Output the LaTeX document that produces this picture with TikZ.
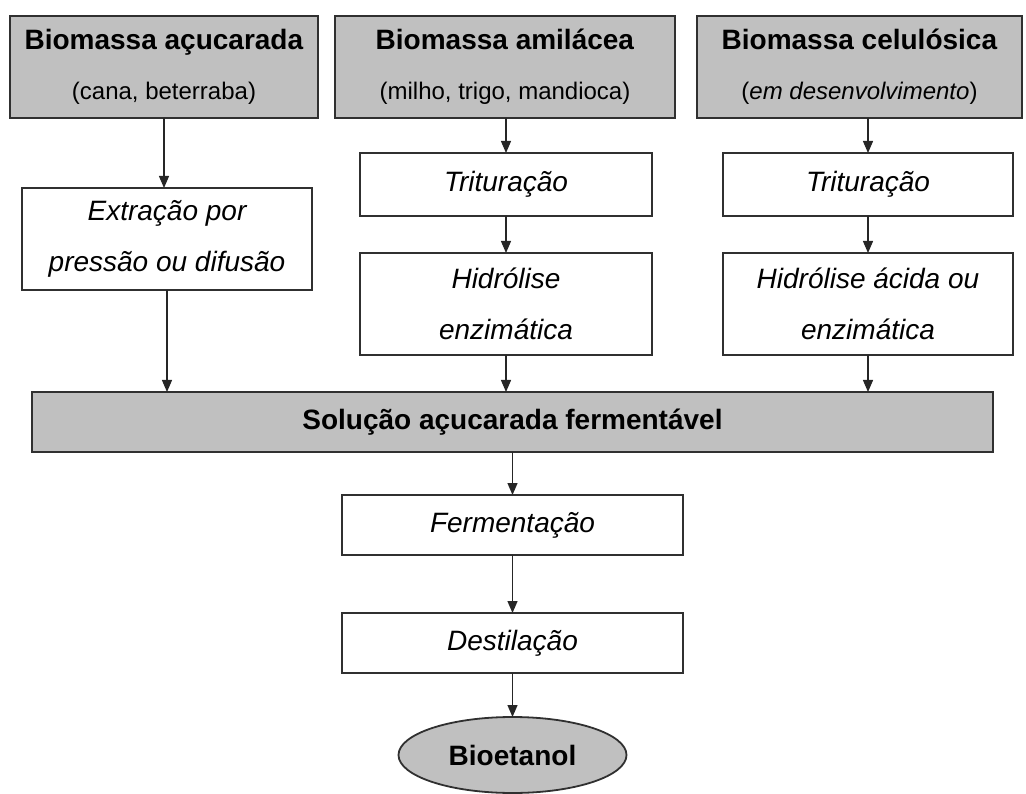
\documentclass[tikz,border=0pt]{standalone}
\usepackage{fontspec}
\setmainfont{Liberation Sans}
\usetikzlibrary{positioning}
\usetikzlibrary{shapes,arrows.meta,shapes.geometric,calc}
\usepackage{color}
\definecolor{cinza}{HTML}{C0C0C0}
\definecolor{borda}{HTML}{303030}
\tikzset{
    %Define standard arrow tip
    >={Triangle[length=12pt,width=10pt]},
    % Define arrow style
    seta/.style={
           ->,
           line width=1.3pt,
           draw=black!85,},
    % Define box styles
    caixa/.style={
           shape=rectangle,
           draw=borda,
           line width=1.8pt,
           inner sep=0pt,
           align=center,
           font=\fontsize{28}{50}\selectfont,},
    biomassa/.style={caixa, fill=cinza, minimum height=102pt},
    etapa/.style={caixa, fill=white, font=\fontsize{28}{51}\selectfont\itshape},
    produto/.style={shape=ellipse, draw=borda, line width=1.8pt, fill=cinza,
           inner sep=0pt, minimum width=228pt, minimum height=76pt,
           font=\fontsize{28}{34}\selectfont\bfseries},
}

\begin{document}
\begin{tikzpicture}[x=1pt, y=-1pt, outer sep = 0pt]

\useasboundingbox (0,0) rectangle (1026,794);

%%%%%%%%%%%%%%%%%%%%%%%%%%%%%%%%%

% raw material
\node [biomassa, minimum width=308pt] (acucarada) at (164,67)
      {\textbf{Biomassa açucarada}\\ \fontsize{24}{50}\selectfont (cana, beterraba)};
\node [biomassa, minimum width=340pt] (amilacea) at (505,67)
      {\textbf{Biomassa amilácea}\\ \fontsize{24}{50}\selectfont (milho, trigo, mandioca)};
\node [biomassa, minimum width=325pt] (celulosica) at (859.5,67)
      {\textbf{Biomassa celulósica}\\ \fontsize{24}{50}\selectfont (\textit{em desenvolvimento})};

% left column
\node [etapa, minimum width=290pt, minimum height=102pt] (extracao) at (167,239)
      {Extração por\\ pressão ou difusão};

% central column
\node [etapa, minimum width=292pt, minimum height=63pt] (trit1) at (506,184.5) {Trituração};
\node [etapa, minimum width=292pt, minimum height=102pt] (hidr1) at (506,304)
      {Hidrólise\\ enzimática};

% right column
\node [etapa, minimum width=290pt, minimum height=63pt] (trit2) at (868,184.5) {Trituração};
\node [etapa, minimum width=290pt, minimum height=102pt] (hidr2) at (868,304)
      {Hidrólise ácida ou\\ enzimática};

% sugar solution
\node [caixa, fill=cinza, minimum width=961pt, minimum height=60pt] (solucao) at (512.5,422)
      {\textbf{Solução açucarada fermentável}};

% fermentation and distillation
\node [etapa, minimum width=341pt, minimum height=60pt] (fermentacao) at (512.5,525) {Fermentação};
\node [etapa, minimum width=341pt, minimum height=60pt] (destilacao) at (512.5,643) {Destilação};

% product
\node [produto] (bioetanol) at (512.5,755) {Bioetanol};

% arrows
\draw [seta] (acucarada.south) -- (acucarada.south |- extracao.north);
\draw [seta] (extracao.south) -- (extracao.south |- solucao.north);
\draw [seta] (trit1.north |- amilacea.south) -- (trit1.north);
\draw [seta] (trit1.south) -- (hidr1.north);
\draw [seta] (hidr1.south) -- (hidr1.south |- solucao.north);
\draw [seta] (trit2.north |- celulosica.south) -- (trit2.north);
\draw [seta] (trit2.south) -- (hidr2.north);
\draw [seta] (hidr2.south) -- (hidr2.south |- solucao.north);
\draw [seta] (fermentacao.north |- solucao.south) -- (fermentacao.north);
\draw [seta] (fermentacao.south) -- (destilacao.north);
\draw [seta] (destilacao.south) -- (bioetanol.north);

\end{tikzpicture}
\end{document}
